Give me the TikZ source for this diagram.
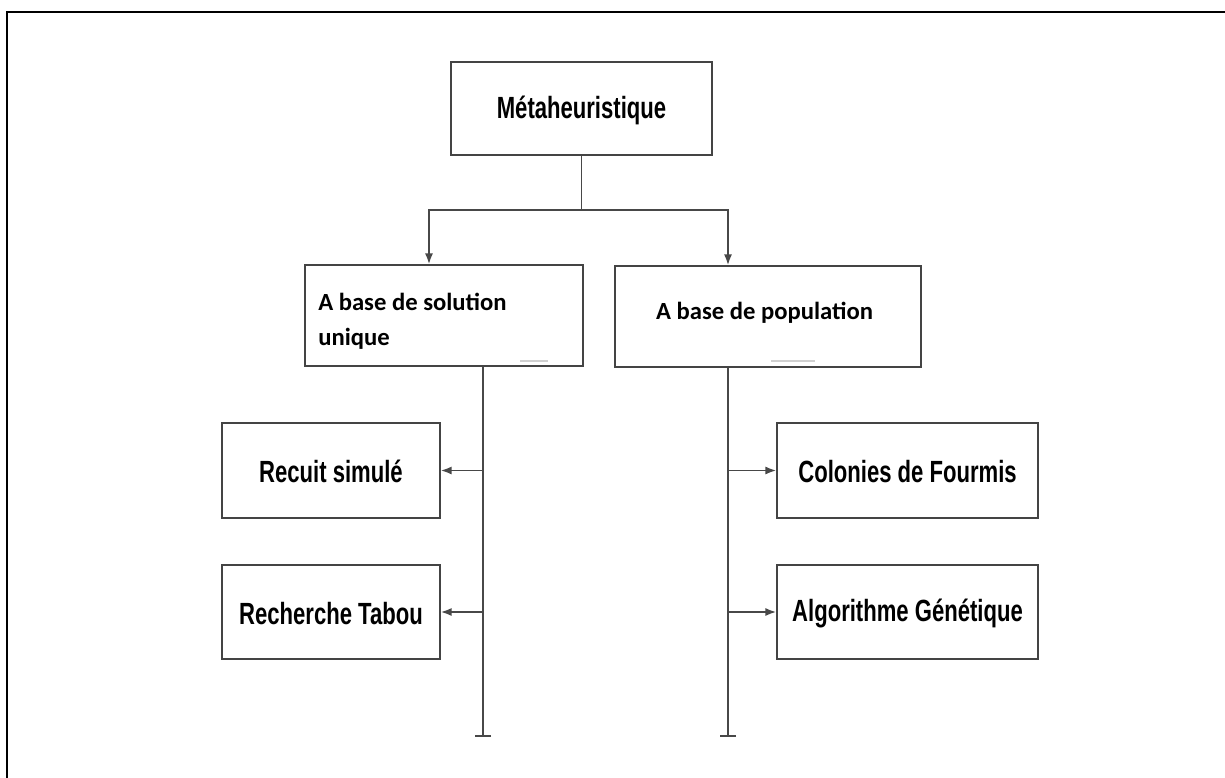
\documentclass[tikz,border=0pt]{standalone}
\usepackage{fontspec}
\newfontfamily\condfont[FakeStretch=0.72]{Liberation Sans}
\newfontfamily\califont{Carlito}
\usetikzlibrary{arrows.meta,fit}
\definecolor{boxgray}{HTML}{444444}
\definecolor{linegray}{HTML}{484848}
\definecolor{faint}{HTML}{D0D0D0}
\begin{document}
\begin{tikzpicture}[x=0.75pt,y=-0.75pt,
  box/.style={draw=boxgray, line width=1.3pt, inner sep=0pt},
  lbl/.style={font=\condfont\bfseries\fontsize{23}{26}\selectfont, text=black, inner sep=0pt, anchor=center},
  mlbl/.style={font=\califont\bfseries\fontsize{18.5}{26}\selectfont, text=black, inner sep=0pt},
  conn/.style={draw=linegray, line width=1.3pt},
  arr/.style={conn, -{Latex[length=8pt,width=6pt]}},
  trunk/.style={conn, -{Bar[width=12pt]}}]
\useasboundingbox (0,0) rectangle (1225,778);
\fill[white] (0,0) rectangle (1225,778);
% frame
\draw[line width=1.2pt, black] (1225,12) -- (7,12) -- (7,778);
% boxes
\node[box, fit={(451,62)(712,155)}] (meta) {};
\node[box, fit={(305,265)(583,366)}] (sol) {};
\node[box, fit={(615,266)(921,367)}] (pop) {};
\node[box, fit={(222,423)(440,518)}] (rs) {};
\node[box, fit={(222,565)(440,659)}] (rt) {};
\node[box, fit={(777,423)(1038,518)}] (cf) {};
\node[box, fit={(777,565)(1038,659)}] (ag) {};
% labels
\node[lbl] (metat) at ([yshift=-1.5pt]meta.center) {Métaheuristique};
\node[lbl] (rst) at ([yshift=-1pt]rs.center) {Recuit simulé};
\node[lbl] (rtt) at ([yshift=-1pt]rt.center) {Recherche Tabou};
\node[lbl] (cft) at ([yshift=-1pt]cf.center) {Colonies de Fourmis};
\node[lbl] (agt) at ([yshift=-1pt]ag.center) {Algorithme Génétique};
\node[mlbl, anchor=base west] (solt1) at (318,310) {A base de solution};
\node[mlbl, anchor=base west] (solt2) at (318,345) {unique};
\node[mlbl, anchor=base] (popt) at (764.5,319) {A base de population};
% faint marks
\draw[faint, line width=0.9pt] (520,361) -- (548,361);
\draw[faint, line width=0.9pt] (771,361) -- (815,361);
% connectors
\coordinate (j) at (581.5,210);
\coordinate (jl) at (429,210);
\coordinate (jr) at (728,210);
\draw[conn] (meta.south) -- (j);
\draw[arr] (j) -- (jl) -- (jl |- sol.north);
\draw[arr] (j) -- (jr) -- (jr |- pop.north);
\coordinate (el) at (483,737);
\coordinate (er) at (728,737);
\draw[trunk] (el |- sol.south) -- (el);
\draw[trunk] (er |- pop.south) -- (er);
\draw[arr] (el |- rs.east) -- (rs.east);
\draw[arr] (el |- rt.east) -- (rt.east);
\draw[arr] (er |- cf.west) -- (cf.west);
\draw[arr] (er |- ag.west) -- (ag.west);
\end{tikzpicture}
\end{document}
